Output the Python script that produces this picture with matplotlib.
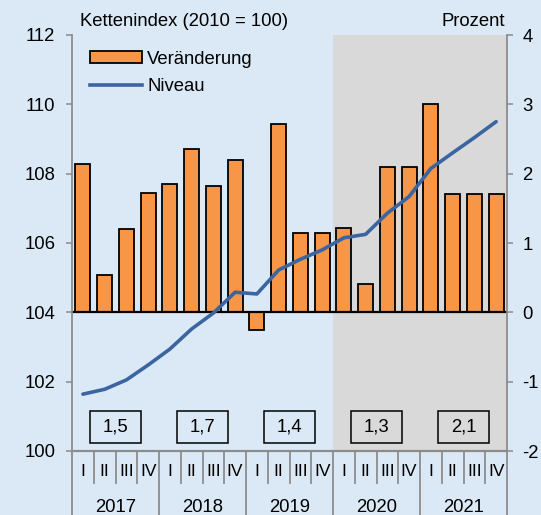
import matplotlib
matplotlib.use("Agg")
import matplotlib.pyplot as plt
from matplotlib.patches import Rectangle
from matplotlib.lines import Line2D
from matplotlib.patches import Patch
import matplotlib.transforms as mtransforms

# ---- data ----
years = ["2017", "2018", "2019", "2020", "2021"]
quarters = ["I", "II", "III", "IV"]
change = [2.14, 0.54, 1.20, 1.72,
          1.85, 2.36, 1.82, 2.20,
          -0.25, 2.72, 1.15, 1.15,
          1.21, 0.41, 2.10, 2.10,
          3.01, 1.70, 1.70, 1.70]
level = [101.64, 101.78, 102.05, 102.48,
         102.94, 103.52, 103.98, 104.58,
         104.53, 105.22, 105.53, 105.80,
         106.15, 106.25, 106.86, 107.34,
         108.15, 108.60, 109.04, 109.50]
annual = ["1,5", "1,7", "1,4", "1,3", "2,1"]
shade_from_year = "2020"

# ---- style ----
BG = "#DBE9F6"
GRAY_SHADE = "#D9D9D9"
ORANGE = "#F79646"
BLUE = "#3A65A0"
AXC = "#8C8C8C"
FS = 13.3

plt.rcParams['font.family'] = ['Liberation Sans', 'DejaVu Sans']

fig = plt.figure(figsize=(5.41, 5.15), dpi=100, facecolor=BG)
L, R, B, T = 72/541, 507/541, 1 - 451/515, 1 - 35/515
ax = fig.add_axes([L, B, R - L, T - B])
ax.set_facecolor(BG)
ax2 = ax.twinx()
ax2.patch.set_visible(False)

n = len(change)
x = list(range(n))
ax.set_xlim(-0.5, n - 0.5)

# shading
s = years.index(shade_from_year) * 4 - 0.5
ax.axvspan(s, n - 0.5, color=GRAY_SHADE, zorder=0, lw=0)

# bars (percent, right axis)
ax.bar(x, change, width=0.69, color=ORANGE, edgecolor="black", linewidth=1.3, zorder=3)
ax.axhline(0, color="black", lw=1.6, zorder=4)
ax.set_ylim(-2, 4)
ax.set_yticks(range(-2, 5))
ax.yaxis.tick_right()
ax.yaxis.set_label_position("right")
ax.set_yticklabels([str(v) for v in range(-2, 5)])

# line (index, left axis)
ax2.plot(x, level, color=BLUE, lw=2.6, zorder=5, solid_capstyle="round")
ax2.set_ylim(100, 112)
ax2.set_yticks(range(100, 113, 2))
ax2.yaxis.tick_left()
ax2.yaxis.set_label_position("left")

for a in (ax, ax2):
    for sp in a.spines.values():
        sp.set_visible(False)
    a.tick_params(axis="y", colors="black", labelsize=FS, length=4, width=1.1, color=AXC)
    a.set_xticks([])
ax.tick_params(axis="y", pad=7)
ax2.tick_params(axis="y", pad=8)
ax2.spines["left"].set_visible(True)
ax2.spines["left"].set_color(AXC)
ax2.spines["left"].set_linewidth(1.3)
ax2.spines["right"].set_visible(True)
ax2.spines["right"].set_color(AXC)
ax2.spines["right"].set_linewidth(1.3)
ax2.spines["bottom"].set_visible(True)
ax2.spines["bottom"].set_color(AXC)
ax2.spines["bottom"].set_linewidth(1.6)

# annual boxes
box_w = 2.39
for i, lab in enumerate(annual):
    cx = i * 4 + 1.5
    ax2.add_patch(Rectangle((cx - box_w / 2, 100.23), box_w, 0.92, fill=False,
                            edgecolor="black", lw=1.1, zorder=6))
    ax2.text(cx, 100.69, lab, ha="center", va="center", fontsize=FS, zorder=7)

# category axis below
trans = mtransforms.blended_transform_factory(ax.transData, ax.transAxes)
q_bottom = -(483 - 451) / 416
y_bottom = -(515 - 451) / 416
for k in range(n + 1):
    xb = k - 0.5
    if k % 4 == 0:
        ax.add_line(Line2D([xb, xb], [0, y_bottom], transform=trans, color=AXC,
                           lw=1.3, clip_on=False))
    else:
        ax.add_line(Line2D([xb, xb], [0, q_bottom], transform=trans, color=AXC,
                           lw=1.3, clip_on=False))
for k in range(n):
    ax.text(k, -(471 - 451) / 416, quarters[k % 4], transform=trans, ha="center",
            va="center", fontsize=12.5, clip_on=False)
for i, yr in enumerate(years):
    ax.text(i * 4 + 1.5, -(507 - 451) / 416, yr, transform=trans, ha="center",
            va="center", fontsize=FS, clip_on=False)

# legend
handles = [Patch(facecolor=ORANGE, edgecolor="black", lw=1.3),
           Line2D([], [], color=BLUE, lw=2.6)]
ax2.legend(handles, ["Veränderung", "Niveau"], loc="upper left",
           bbox_to_anchor=(0.041, 0.962), frameon=False, fontsize=FS,
           handlelength=2.8, handleheight=0.6, handletextpad=0.3,
           labelspacing=0.57, borderpad=0, borderaxespad=0)

# titles
fig.text(79.6 / 541, 1 - 22 / 515, "Kettenindex (2010 = 100)", ha="left", va="center", fontsize=FS)
fig.text(505 / 541, 1 - 22 / 515, "Prozent", ha="right", va="center", fontsize=FS)

fig.savefig("out.png", dpi=100, facecolor=BG)
